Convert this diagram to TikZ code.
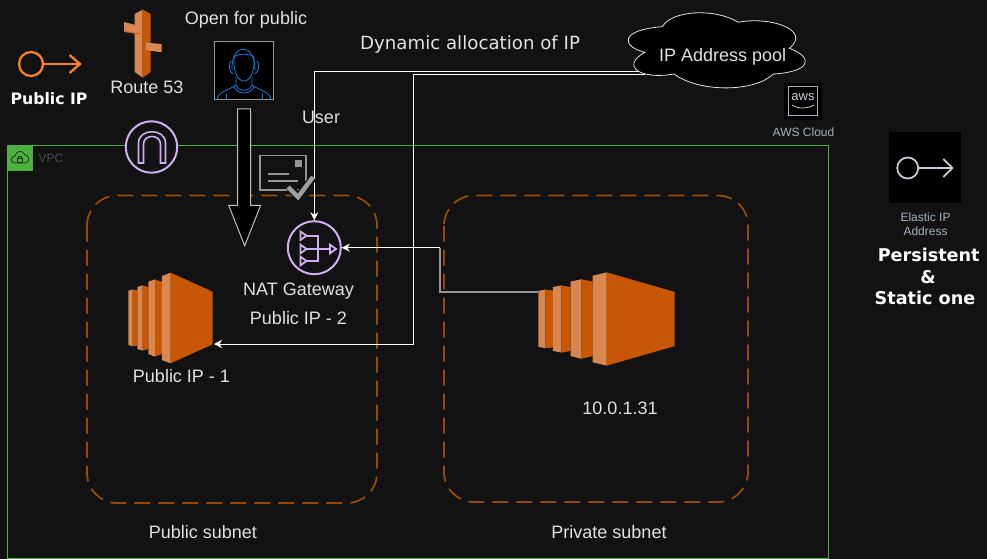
\documentclass[tikz,border=0pt]{standalone}
\usepackage{fontspec}
\setmainfont{Liberation Sans}
\newfontfamily\widefont{DejaVu Sans}
\usetikzlibrary{arrows.meta}
\definecolor{bgcol}     {RGB}{18,18,18}
\definecolor{vpccol}    {RGB}{76,175,62}
\definecolor{subnetcol} {RGB}{150,75,5}
\definecolor{ec2dark}   {RGB}{199,86,5}
\definecolor{ec2light}  {RGB}{217,135,79}
\definecolor{purplecol} {RGB}{208,176,242}
\definecolor{ipcol}     {RGB}{245,128,38}
\definecolor{usercol}   {RGB}{15,125,225}
\definecolor{greycol}   {RGB}{150,150,150}
\definecolor{textcol}   {RGB}{225,225,225}
\definecolor{awscol}    {RGB}{165,176,192}

\tikzset{
  lbl/.style={text=textcol, inner sep=0pt, font=\fontsize{18}{21}\selectfont},
  smalllbl/.style={text=awscol, inner sep=0pt, align=center, font=\fontsize{12}{14}\selectfont},
  boldlbl/.style={text=white, inner sep=0pt, font=\widefont\bfseries\fontsize{17.6}{20}\selectfont},
  subnet/.style={draw=subnetcol, line width=1.8pt, rounded corners=30pt, dash pattern=on 16pt off 8pt},
  wire/.style={draw=white, line width=0.9pt},
  wirearrow/.style={wire, -{Stealth[length=8pt,width=8pt]}},
  purpleline/.style={draw=purplecol, line width=2pt},
  ec2icon/.pic={
    \fill[ec2dark] (4.3,-28.6) -- (9,-27.6) -- (9,27.6) -- (4.3,28.3) -- cycle;
    \fill[ec2light] (0,-27.3) -- (4.3,-28.6) -- (4.3,28.3) -- (0,27) -- cycle;
    \fill[ec2dark] (14.3,-32.6) -- (20,-31) -- (20,31) -- (14.3,32.6) -- cycle;
    \fill[ec2light] (9,-31) -- (14.3,-32.6) -- (14.3,32.6) -- (9,31) -- cycle;
    \fill[ec2dark] (26.6,-38.6) -- (33.6,-36.3) -- (33.6,36) -- (26.6,38.6) -- cycle;
    \fill[ec2light] (20,-36.3) -- (26.6,-38.6) -- (26.6,38.6) -- (20,36) -- cycle;
    \fill[ec2dark] (42.3,-45.3) -- (84.3,-26.3) -- (84.3,26.3) -- (42.3,45.3) -- cycle;
    \fill[ec2light] (33.6,-42) -- (42.3,-45.3) -- (42.3,45.3) -- (33.6,42) -- cycle;
  }
}

\begin{document}
\begin{tikzpicture}[x=1pt, y=-1pt]

\fill[bgcol] (0,0) rectangle (987,559);
\useasboundingbox (0,0) rectangle (987,559);

% VPC and subnets
\draw[vpccol, line width=0.8pt] (7.5,145.5) rectangle (828,558);
\fill[vpccol] (7,145) rectangle (33,171);
\draw[bgcol!80!vpccol, line width=0.7pt] (15,163) .. controls (10,163) and (10,156) .. (15,156)
    .. controls (16,150) and (24,150) .. (25,155) .. controls (30,155) and (30,163) .. (25,163) -- cycle;
\draw[bgcol!80!vpccol, line width=0.7pt] (17.5,158) rectangle (22.5,162.5);
\draw[bgcol!80!vpccol, line width=0.7pt] (18.5,158) -- (18.5,156.5) -- (21.5,156.5) -- (21.5,158);
\node[text=awscol!35!bgcol, inner sep=0pt, font=\fontsize{12}{13}\selectfont] (vpclabel) at (51,158.5) {VPC};

\draw[subnet] (87,195.5) rectangle (377,503);
\draw[subnet] (444,195.5) rectangle (748,502);
\node[lbl] (publabel) at (203,532) {Public subnet};
\node[lbl] (privlabel) at (609,532) {Private subnet};

% Named anchors for the wires
\node[circle, draw=purplecol, line width=2pt, minimum size=53pt, inner sep=0pt] (nat) at (314.3,247.7) {};
\coordinate (cloudtapa) at (645,71.2);
\coordinate (cloudtapb) at (645,74);
\coordinate (pubbend) at (413,344);
\coordinate (pubport) at (214,344);
\coordinate (privport) at (538,292);
\coordinate (privbend) at (440,247.7);

% ================================================================
% WIRES
% ================================================================
\draw[wirearrow] (cloudtapa) -| (nat.north);
\draw[wirearrow] (cloudtapb) -| (pubbend) -- (pubport);
\draw[draw=greycol, line width=1.4pt] (privport) -| (privbend);
\draw[wirearrow] (privbend) -- (nat.east);

% ================================================================
% CLOUD
% ================================================================
\filldraw[fill=black, draw=textcol, line width=0.8pt] (645,52.3)
    .. controls (622,47) and (618,30) .. (662.3,26.7)
    .. controls (672,10) and (715,8) .. (738.3,22.3)
    .. controls (770,16) and (812,30) .. (789.3,48.3)
    .. controls (815,58) and (810,72) .. (773.3,74)
    .. controls (755,92) and (700,93) .. (674,74)
    .. controls (640,80) and (620,66) .. (645,52.3) -- cycle;
\node[lbl] (cloud) at (722.7,57) {IP Address pool};

\node[lbl, font=\widefont\fontsize{18.2}{21}\selectfont] (dynlabel) at (470,44.5) {Dynamic allocation of IP};

% ================================================================
% PUBLIC IP (top left)
% ================================================================
\draw[ipcol, line width=2.3pt] (31,64) circle (12pt);
\draw[ipcol, line width=2.3pt] (43,64) -- (80,64);
\draw[ipcol, line width=2.3pt] (69.5,55) -- (80,64) -- (69.5,73);
\node[boldlbl, font=\widefont\bfseries\fontsize{15.7}{18}\selectfont] (iplabel) at (49,98.5) {Public IP};

% ================================================================
% ROUTE 53
% ================================================================
\fill[ec2light] (134.7,14) -- (142.7,9.5) -- (142.7,77.7) -- (134.7,72) -- cycle;
\fill[ec2dark] (142.7,9.5) -- (150.7,14) -- (150.7,72) -- (142.7,77.7) -- cycle;
\fill[ec2light] (124,22) -- (139.3,26) -- (139.3,34.3) -- (124,31.7) -- cycle;
\fill[ec2dark] (124,31) -- (139.3,33.5) -- (139.3,34.3) -- (124,31.9) -- cycle;
\fill[ec2light] (145.7,42.7) -- (161.7,44) -- (161.7,52.3) -- (145.7,50) -- cycle;
\node[lbl] (routelabel) at (147,87) {Route 53};

% ================================================================
% USER
% ================================================================
\node[lbl] (openlabel) at (246,20) {Open for public};
\filldraw[fill=black, draw=greycol, line width=1pt] (214.5,41.5) rectangle (273.5,100);
\begin{scope}[draw=usercol, line width=0.8pt]
\draw (232,70) .. controls (231,42) and (255,42) .. (255,70);
\draw (234,58) .. controls (234,53) and (254,53) .. (254,58);
\draw (234,58) .. controls (233,72) and (238,81) .. (244,81) .. controls (250,81) and (255,72) .. (254,58);
\draw (231,61) .. controls (228,64) and (229,72) .. (233,74);
\draw (257,61) .. controls (260,64) and (259,72) .. (255,74);
\draw (236,77) -- (236,85) .. controls (238,92) and (250,92) .. (252,85) -- (252,77);
\draw (234,87) .. controls (238,95) and (250,95) .. (254,87);
\draw (217,100) .. controls (218,91) and (228,91) .. (236,85);
\draw (271,100) .. controls (270,91) and (260,91) .. (252,85);
\draw (226,94) -- (226,100);
\draw (262,94) -- (262,100);
\end{scope}
\node[lbl] (userlabel) at (321,117) {User};

% Internet gateway
\filldraw[fill=bgcol, purpleline] (151.5,147) circle (25.7pt);
\draw[purpleline, line width=1.6pt, line join=miter] (138.5,163) -- (138.5,143) .. controls (138.5,128) and (165.5,128) .. (165.5,143) -- (165.5,163)
    -- (160.5,163) -- (160.5,144) .. controls (160.5,134) and (143.5,134) .. (143.5,144) -- (143.5,163) -- cycle;

% Block arrow
\filldraw[fill=black, draw=greycol!60!white, line width=1pt] (237.7,109) -- (250.7,109) -- (250.7,205.3) -- (260.7,205.3)
    -- (244.7,245.7) -- (228.7,205.3) -- (237.7,205.3) -- cycle;

% Certificate
\draw[greycol, line width=1.6pt] (260,155.5) rectangle (306,190);
\fill[greycol] (295,160) rectangle (302,167);
\draw[greycol, line width=1.6pt] (268,174) -- (289,174);
\draw[greycol, line width=1.6pt] (268,181) -- (298,181);
\draw[bgcol, line width=8pt] (289,186) -- (298,197) -- (313,178);
\draw[greycol!90!white, line width=4.5pt] (288,187) -- (298,197) -- (313,177);

% ================================================================
% NAT GATEWAY
% ================================================================
\begin{scope}[purpleline, line width=1.8pt]
\draw (300.5,231.5) -- (306.5,235.7) -- (300.5,240) -- cycle;
\draw (300.5,244.7) -- (306.5,249) -- (300.5,253.3) -- cycle;
\draw (300.5,256.7) -- (306.5,261) -- (300.5,265.3) -- cycle;
\draw (306.5,235.7) -- (318.3,235.7) -- (318.3,261) -- (306.5,261);
\draw (306.5,249) -- (330,249);
\draw (330,244.7) -- (336,249) -- (330,253.3) -- cycle;
\end{scope}
\node[lbl] (natlabel) at (298.5,291) {NAT Gateway};
\node[lbl] (natiplabel) at (298.5,318.5) {Public IP - 2};

% ================================================================
% INSTANCES
% ================================================================
\pic at (128.3,318) {ec2icon};
\node[lbl] (publicone) at (181.5,376) {Public IP - 1};

\pic[xscale=1.617, yscale=1.03] at (538.3,319) {ec2icon};
\node[lbl] (privateip) at (620,408) {10.0.1.31};

% ================================================================
% AWS CLOUD
% ================================================================
\fill[black] (784.3,82.7) rectangle (821.7,119.7);
\draw[awscol, line width=1.2pt] (788.5,86.7) rectangle (817.7,115.7);
\node[text=awscol!60!white, inner sep=0pt, font=\fontsize{13}{14}\selectfont] (awsword) at (803,97) {aws};
\draw[textcol, line width=0.7pt] (792,105) .. controls (798,109) and (807,109) .. (814,105);
\node[smalllbl] (awslabel) at (803.5,132.5) {AWS Cloud};

% ================================================================
% ELASTIC IP
% ================================================================
\fill[black] (889.3,132.3) rectangle (960.7,203.3);
\draw[awscol!60!white, line width=1.7pt] (907.7,168) circle (10.5pt);
\draw[awscol!60!white, line width=1.7pt] (918.2,168) -- (952.5,168);
\draw[awscol!60!white, line width=1.7pt] (943.3,159) -- (952.5,168) -- (943.3,177);
\node[smalllbl] (eiplabel) at (925.5,224) {Elastic IP\\Address};
\node[boldlbl] (persistlabel) at (928.7,254.5) {Persistent};
\node[boldlbl] (amplabel) at (928,277) {\&};
\node[boldlbl] (staticlabel) at (925,297.5) {Static one};

\end{tikzpicture}
\end{document}
